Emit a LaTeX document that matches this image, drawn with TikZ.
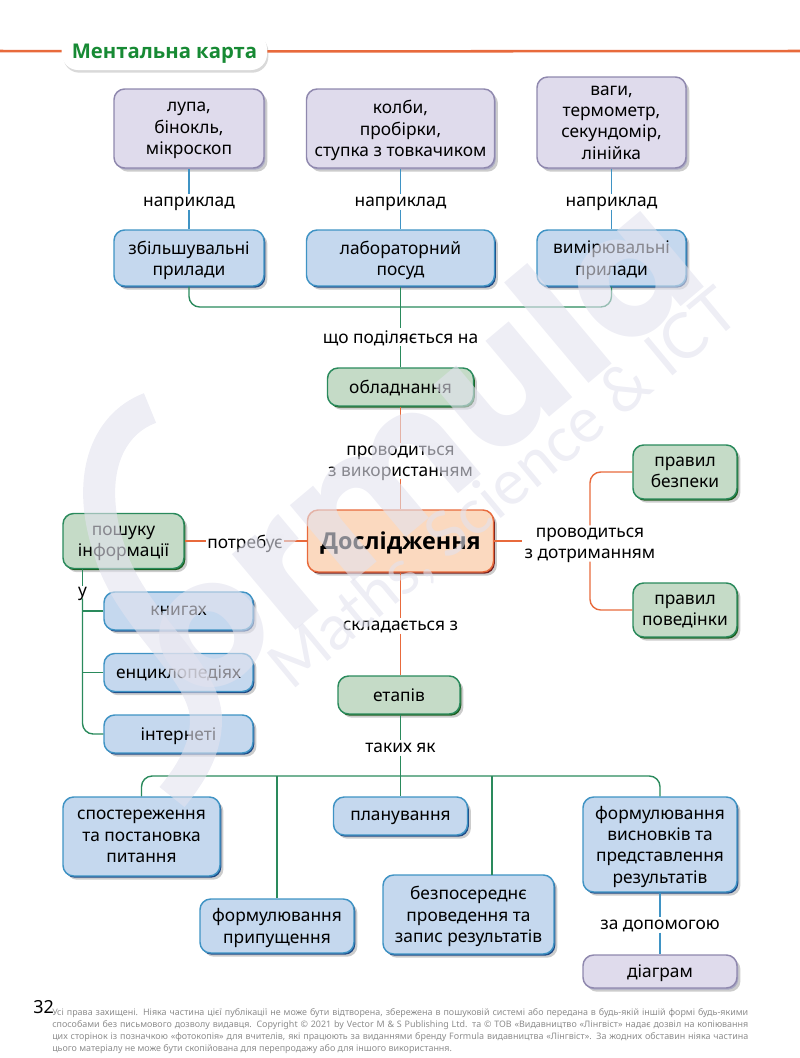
\documentclass[tikz,border=0pt]{standalone}
\usepackage{fontspec}
\setmainfont{Noto Sans}
\newfontfamily\headfont{Open Sans}
\newfontfamily\markfont{Poppins}
\newfontfamily\sloganfont{Lato}
\usetikzlibrary{positioning, shadows}
\definecolor{lineorange}{HTML}{E86A3C}
\definecolor{linegreen}{HTML}{2A8A5C}
\definecolor{lineblue}{HTML}{3F93C4}
\definecolor{linepurple}{HTML}{8F88AE}
\definecolor{fillpurple}{HTML}{DFDBEC}
\definecolor{fillblue}{HTML}{C5D8EE}
\definecolor{fillgreen}{HTML}{C5DBC7}
\definecolor{fillorange}{HTML}{FBD9BF}
\definecolor{markgray}{HTML}{E2E2EE}
\tikzset{
    boxsize/.style 2 args={minimum width=#1*0.75pt, minimum height=#2*0.75pt}, % box size in pixels of the page
    softshadow/.style={drop shadow={shadow xshift=2.6pt, shadow yshift=-2.8pt, fill=black, opacity=.2}},
    edgeshadow/.style={drop shadow={shadow xshift=1pt, shadow yshift=-1.3pt, fill=#1, opacity=.85}},
    mapbox/.style={rounded corners=8pt, line width=1.1pt, align=center, inner sep=0pt, text depth=-1.4pt,
        font=\fontsize{13pt}{16pt}\selectfont},
    purplebox/.style={mapbox, draw=linepurple, fill=fillpurple, softshadow, edgeshadow={black!65!blue!35}},
    bluebox/.style={mapbox, draw=lineblue, fill=fillblue, softshadow, edgeshadow={blue!35!black!80!cyan}},
    greenbox/.style={mapbox, draw=linegreen, fill=fillgreen, softshadow, edgeshadow={green!30!black}},
    orangebox/.style={mapbox, draw=lineorange, fill=fillorange, softshadow, edgeshadow={red!40!black}},
    linklabel/.style={fill=white, align=center, inner sep=2pt, text depth=0pt, font=\fontsize{13pt}{15.8pt}\selectfont},
    bluelink/.style={draw=lineblue, line width=1.05pt},
    greenlink/.style={draw=linegreen, line width=1.05pt, rounded corners=8pt},
    orangelink/.style={draw=lineorange, line width=1.05pt, rounded corners=8pt},
}
\begin{document}
\begin{tikzpicture}[x=0.75pt, y=-0.75pt]
    \useasboundingbox (0,0) rectangle (800,1058);
    % heading
    \node[fill=white, rounded corners=12pt, boxsize={205}{37}, text depth=0pt,
        drop shadow={shadow xshift=1pt, shadow yshift=-2pt, fill=black, opacity=.15},
        text=linegreen!70!green!80!black, font=\fontsize{15.2pt}{18pt}\headfont\bfseries] (title) at (164.5,51.5) {Ментальна карта};
    \coordinate (ruleleft) at (0,51);
    \coordinate (ruleright) at (800,51);
    \draw[lineorange, line width=1.9pt] (ruleleft) -- (title) (title) -- (ruleright);

    % instruments
    \node[purplebox, boxsize={150}{79}] (magnify) at (189,128.5) {лупа,\\бінокль,\\мікроскоп};
    \node[purplebox, boxsize={188}{79}] (flasks) at (400.5,128.5) {колби,\\пробірки,\\ступка з товкачиком};
    \node[purplebox, boxsize={149}{91}] (scales) at (611.5,122.5) {ваги,\\термометр,\\секундомір,\\лінійка};
    \node[linklabel] (eg1) at (189,202) {наприклад};
    \node[linklabel] (eg2) at (400.5,202) {наприклад};
    \node[linklabel] (eg3) at (611.5,202) {наприклад};
    \node[bluebox, boxsize={150}{56}] (lenses) at (189,258) {збільшувальні\\прилади};
    \node[bluebox, boxsize={188}{56}] (glassware) at (400.5,258) {лабораторний\\посуд};
    \node[bluebox, boxsize={149}{56}] (measure) at (611.5,258) {вимірювальні\\прилади};
    \coordinate (equipbus) at (400.5,307);
    \node[linklabel] (divided) at (400.5,337) {що поділяється на};
    \node[greenbox, boxsize={146}{38}] (equipment) at (400.5,387) {обладнання};
    \node[linklabel] (using) at (400.5,461) {проводиться\\з використанням};

    % centre
    \node[orangebox, boxsize={186}{62}, font=\fontsize{17.5pt}{20pt}\headfont\bfseries] (research) at (400.5,541) {Дослідження};
    \node[linklabel] (following) at (590,543.5) {проводиться\\з дотриманням};
    \node[greenbox, boxsize={104}{54}] (safety) at (685,472) {правил\\безпеки};
    \node[greenbox, boxsize={104}{54}] (conduct) at (685,610) {правил\\поведінки};
    \node[linklabel, inner sep=1pt] (needs) at (245,542) {потребує};
    \node[greenbox, boxsize={121}{55}] (search) at (123.5,541) {пошуку\\інформації};
    \node[linklabel, inner sep=1pt] (inword) at (82.5,592) {у};
    \node[bluebox, boxsize={149}{38}] (books) at (178.5,611) {книгах};
    \node[bluebox, boxsize={149}{38}] (encycl) at (178.5,672.5) {енциклопедіях};
    \node[bluebox, boxsize={149}{38}] (web) at (178.5,734) {інтернеті};
    \node[linklabel] (consists) at (400.5,626) {складається з};
    \node[greenbox, boxsize={122}{38}] (stages) at (399,695) {етапів};
    \node[linklabel] (suchas) at (400.5,748) {таких як};
    \coordinate (stagebus) at (400.5,776);

    % stages
    \node[bluebox, boxsize={157}{79}] (observe) at (141.5,836.5) {спостереження\\та постановка\\питання};
    \node[bluebox, boxsize={154}{54}] (hypothesis) at (277,926) {формулювання\\припущення};
    \node[bluebox, boxsize={134}{38}] (plan) at (400.5,816) {планування};
    \node[bluebox, boxsize={171}{79}] (conducting) at (468.5,914.5) {безпосереднє\\проведення та\\запис результатів};
    \node[bluebox, boxsize={154}{95}] (conclude) at (660,844.5) {формулювання\\висновків та\\представлення\\результатів};
    \node[linklabel] (withhelp) at (660,925) {за допомогою};
    \node[purplebox, boxsize={154}{33}] (charts) at (660,971.5) {діаграм};
    \coordinate (splitright) at (492,875);

    % connectors
    \path[bluelink]
        (magnify) edge (eg1) (eg1) edge (lenses)
        (flasks) edge (eg2) (eg2) edge (glassware)
        (scales) edge (eg3) (eg3) edge (measure)
        (conclude) edge (withhelp) (withhelp) edge (charts);
    \draw[greenlink] (lenses) |- (equipbus);
    \draw[greenlink] (measure) |- (equipbus);
    \path[greenlink]
        (glassware) edge (divided)
        (divided) edge (equipment)
        (stages.south -| suchas) edge (suchas)
        (suchas) edge (plan);
    \path[orangelink]
        (equipment) edge (using)
        (using) edge (research)
        (research.east) edge (research.east -| following.west)
        (research) edge (research -| needs.east)
        (needs.west |- search) edge (search)
        (research) edge (consists)
        (consists) edge (stages.north -| consists);
    \draw[orangelink] (following) |- (safety);
    \draw[orangelink] (following) |- (conduct);
    \draw[greenlink] (observe.north) |- (stagebus);
    \draw[greenlink] (conclude.north) |- (stagebus);
    \draw[greenlink] (hypothesis.north) -- (hypothesis.north |- stagebus);
    \draw[greenlink] (splitright) -- (splitright |- stagebus);
    \draw[greenlink] (search.south -| inword) -- (inword);
    \draw[greenlink] (inword) |- (web);
    \draw[greenlink] (books) -- (books -| inword);
    \draw[greenlink] (encycl) -- (encycl -| inword);

    % page number and imprint
    \node[anchor=west, inner sep=0pt, font=\fontsize{13.5pt}{18pt}\selectfont] (page) at (33,1007) {32};
    \node[anchor=north west, inner sep=0pt, text width=696*0.75pt, align=justify, text=black!45,
        font=\fontsize{6.7pt}{9.2pt}\selectfont] (imprint) at (52,1008)
        {Усі права захищені. Ніяка частина цієї публікації не може бути відтворена, збережена в пошуковій системі або передана в будь-якій іншій формі будь-якими\linebreak
        способами без письмового дозволу видавця. Copyright © 2021 by Vector M \& S Publishing Ltd. та © ТОВ «Видавництво «Лінгвіст» надає дозвіл на копіювання\linebreak
        цих сторінок із позначкою «фотокопія» для вчителів, які працюють за виданнями бренду Formula видавництва «Лінгвіст». За жодних обставин ніяка частина\linebreak
        цього матеріалу не може бути скопійована для перепродажу або для іншого використання.};

    % watermark
    \draw[markgray, opacity=.6, line width=24pt]
        (150,408) .. controls (105,425) and (85,480) .. (110,552)
        .. controls (130,620) and (206,670) .. (206,720) .. controls (206,750) and (190,775) .. (172,797);
    \node[rotate=40, text=markgray, opacity=.6, inner sep=0pt, font=\fontsize{133pt}{133pt}\markfont\bfseries] (brand) at (415,445) {ormula};
    \node[rotate=39.6, text=markgray, opacity=.6, inner sep=0pt, font=\fontsize{47pt}{47pt}\sloganfont] (brandline) at (505,490) {Maths, Science \& ICT};
\end{tikzpicture}
\end{document}
